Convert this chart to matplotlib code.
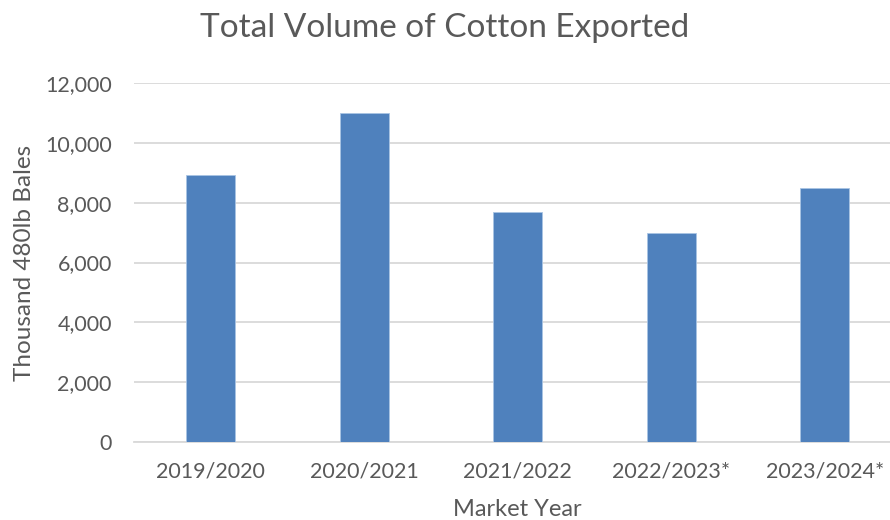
import matplotlib
matplotlib.use("Agg")
import matplotlib.pyplot as plt
from matplotlib.ticker import FuncFormatter

years = ["2019/2020", "2020/2021", "2021/2022", "2022/2023*", "2023/2024*"]
volumes = [8930, 11000, 7700, 7000, 8500]
y_ticks = [0, 2000, 4000, 6000, 8000, 10000, 12000]

gris_texto = "#595959"
gris_linea = "#D9D9D9"
azul = "#4F81BD"

plt.rcParams["font.family"] = ["Lato", "DejaVu Sans"]

fig = plt.figure(figsize=(8.9, 5.2), dpi=100)
ax = fig.add_axes([134 / 890, 78 / 520, 767.5 / 890, 359 / 520])

x = range(len(years))
ax.bar(x, volumes, width=0.32, color=azul, edgecolor="#A9C4E4", linewidth=0.6, zorder=3)

ax.set_xlim(-0.5, len(years) - 0.5)
ax.set_ylim(0, 12000)
ax.set_yticks(y_ticks)
ax.yaxis.set_major_formatter(FuncFormatter(lambda v, p: f"{int(v):,}"))
ax.set_xticks(list(x))
ax.set_xticklabels(years)

ax.grid(axis="y", color=gris_linea, linewidth=1.3, zorder=0)
for lado in ("top", "right", "left"):
    ax.spines[lado].set_visible(False)
ax.spines["bottom"].set_color(gris_linea)
ax.spines["bottom"].set_linewidth(1.3)
ax.tick_params(axis="both", length=0, labelsize=15.5, colors=gris_texto)
ax.tick_params(axis="y", pad=16)
ax.tick_params(axis="x", pad=14)

fig.text(0.5, 1 - 28 / 520, "Total Volume of Cotton Exported", fontsize=24,
         color=gris_texto, ha="center", va="center")
ax.set_xlabel("Market Year", fontsize=17, color=gris_texto, labelpad=12.5)
ax.set_ylabel("Thousand 480lb Bales", fontsize=17.5, color=gris_texto, labelpad=7)

fig.savefig("out.png", dpi=100)
